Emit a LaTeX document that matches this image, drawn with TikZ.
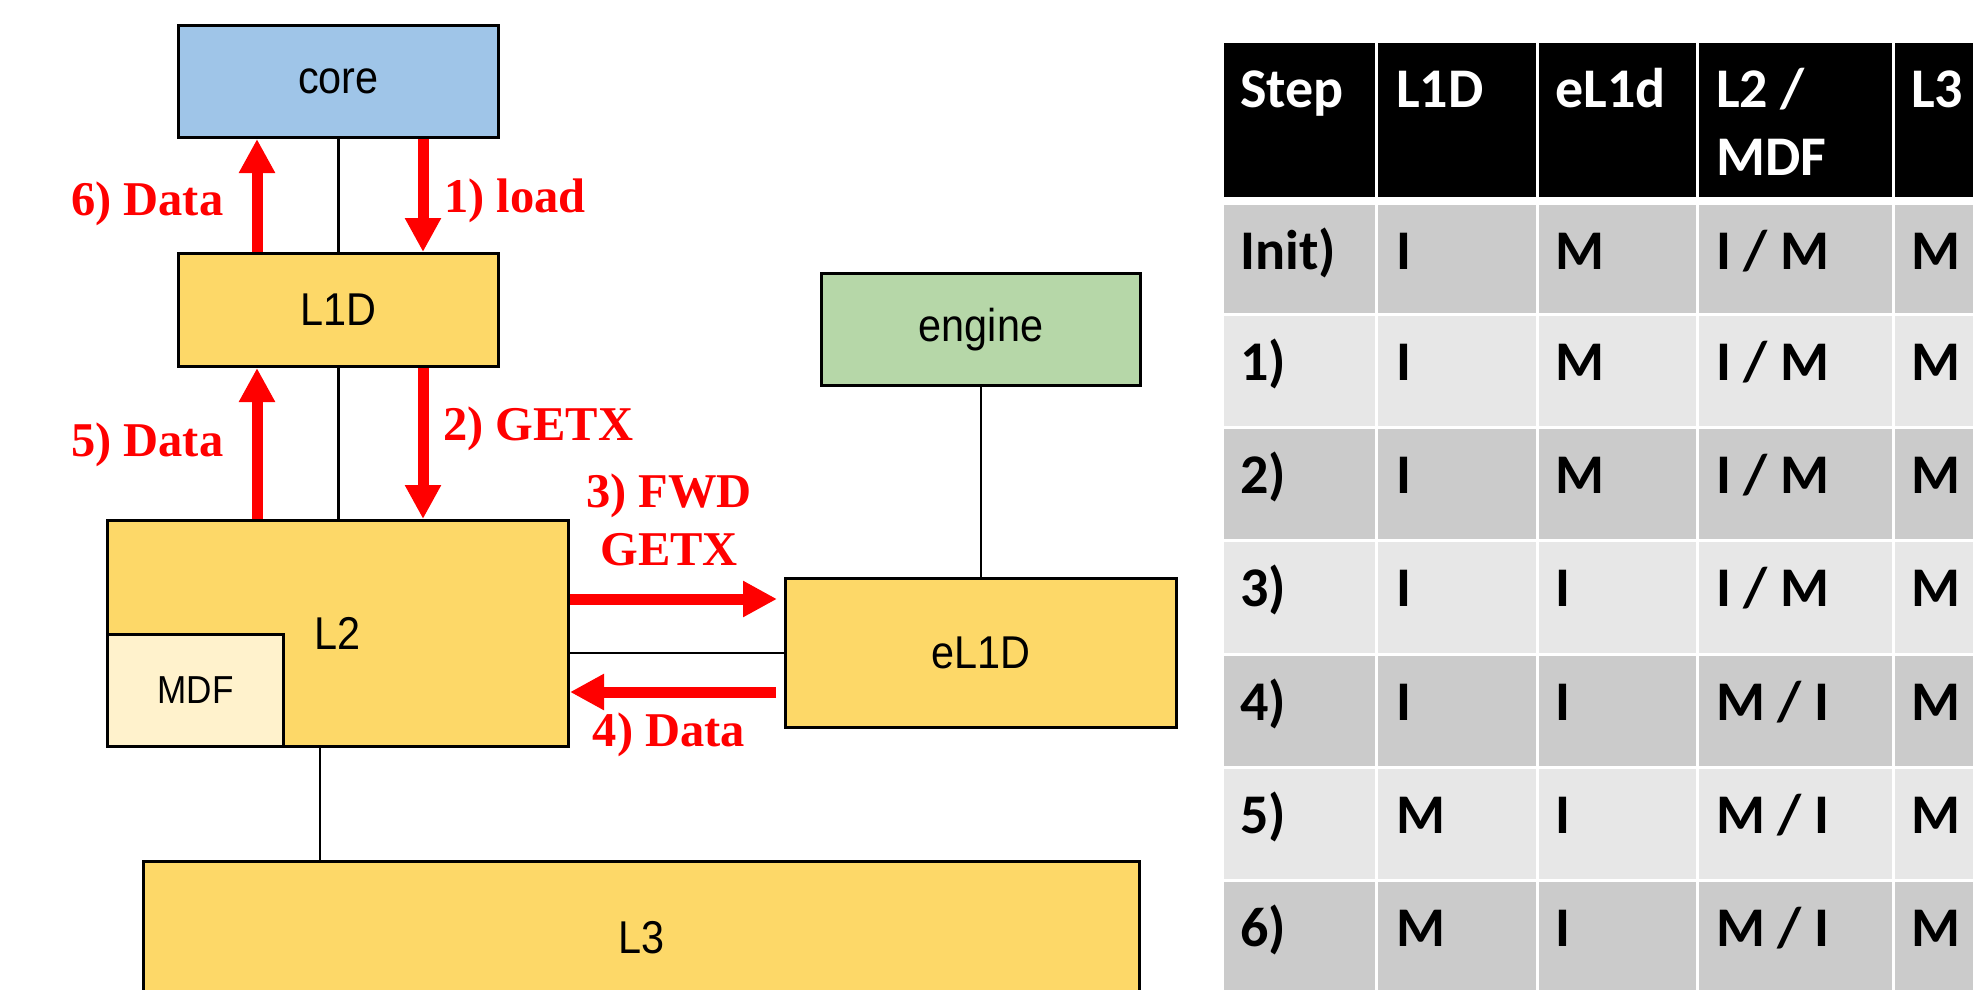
\documentclass[tikz,border=0pt]{standalone}
\usepackage{fontspec}
\usetikzlibrary{arrows.meta,calc}
\newfontfamily\lblfont{Liberation Serif}
\newfontfamily\boxfont[FakeStretch=0.9]{Liberation Sans}
\newfontfamily\tabfont{Carlito}
\definecolor{coreblue}{HTML}{9FC5E8}
\definecolor{cacheyellow}{HTML}{FDD868}
\definecolor{mdfcream}{HTML}{FFF2CC}
\definecolor{enginegreen}{HTML}{B6D7A8}
\definecolor{rowdark}{HTML}{CBCBCB}
\definecolor{rowlight}{HTML}{E7E7E7}
\begin{document}
\begin{tikzpicture}[x=1pt,y=-1pt,
 box/.style={draw=black, line width=3pt, inner sep=0pt, font=\boxfont\fontsize{46}{55}\selectfont},
 conn/.style={draw=black, line width=2.5pt},
 redarr/.style={draw=red, line width=11pt, -{Triangle[length=34pt,width=34pt]}},
 lbl/.style={text=red, font=\lblfont\bfseries\fontsize{48.5}{58}\selectfont, inner sep=0pt, anchor=base west},
 hdr/.style={text=white, font=\tabfont\bfseries\fontsize{56}{68}\selectfont, inner sep=0pt, anchor=base west},
 cell/.style={text=black, font=\tabfont\bfseries\fontsize{56}{68}\selectfont, inner sep=0pt, anchor=base west}]
\useasboundingbox (0,0) rectangle (1973,989);
\clip (0,0) rectangle (1973,989);
\fill[white] (0,0) rectangle (1973,989);

% ---- diagram boxes
\node[box, fill=coreblue, minimum width=320pt, minimum height=112pt] (core) at (338.5,81.5) {core};
\node[box, fill=cacheyellow, minimum width=320pt, minimum height=113pt] (L1D) at (338.5,310) {L1D};
\node[box, fill=cacheyellow, minimum width=461pt, minimum height=226pt] (L2) at (338,633.5) {L2};
\node[box, fill=mdfcream, minimum width=176pt, minimum height=112pt, anchor=south west,
      font=\boxfont\fontsize{39}{47}\selectfont] (MDF) at (L2.south west) {MDF};
\node[box, fill=cacheyellow, minimum width=391pt, minimum height=149pt] (eL1D) at (981,653) {eL1D};
\node[box, fill=enginegreen, minimum width=319pt, minimum height=112pt] (engine) at (981,329.5) {engine};
\node[box, fill=cacheyellow, minimum width=996pt, minimum height=152pt, anchor=north] (L3) at (641.5,860) {L3};

% ---- plain connectors
\draw[conn] (core) -- (L1D);
\draw[conn] (L1D) -- (L1D |- L2.north);
\draw[conn] (eL1D) -- (eL1D -| L2.east);
\draw[conn] (engine) -- (eL1D);
\coordinate (l3tap) at (320,800);
\draw[conn] (l3tap |- L2.south) -- (l3tap |- L3.north);

% ---- red arrows
\coordinate (upx) at (257,0);
\coordinate (downx) at (423,0);
\coordinate (fwdy) at (0,599);
\coordinate (datay) at (0,692);
\draw[redarr] (upx |- L1D.north) -- (upx |- core.south);
\draw[redarr] (downx |- core.south) -- (downx |- L1D.north);
\draw[redarr] (upx |- L2.north) -- (upx |- L1D.south);
\draw[redarr] (downx |- L1D.south) -- (downx |- L2.north);
\draw[redarr, shorten >=7pt] (L2.east |- fwdy) -- (eL1D.west |- fwdy);
\draw[redarr, shorten <=8pt] (eL1D.west |- datay) -- (L2.east |- datay);

% ---- labels
\node[lbl] (lab6) at (71,215) {6) Data};
\node[lbl] (lab1) at (444,212) {1) load};
\node[lbl] (lab5) at (71,456) {5) Data};
\node[lbl] (lab2) at (443,440) {2) GETX};
\node[lbl, anchor=base] (lab3a) at (669,507) {3) FWD};
\node[lbl, anchor=base] (lab3b) at (669,565) {GETX};
\node[lbl, anchor=base] (lab4) at (669,746) {4) Data};

% ---- table
\foreach \l/\r in {1224/1375,1378/1536,1539/1696,1699/1892,1895/1990} {
  \fill[black] (\l,43) rectangle (\r,197);
  \foreach \t/\b/\c in {205/313/rowdark,316/426/rowlight,429/539/rowdark,542/653/rowlight,656/766/rowdark,769/879/rowlight,882/1000/rowdark}
    \fill[\c] (\l,\t) rectangle (\r,\b);
}
\node[hdr] (hStep) at (1240,107) {Step};
\node[hdr] (hL1D) at (1396,107) {L1D};
\node[hdr] (heL1d) at (1555,107) {eL1d};
\node[hdr] (hL2a) at (1716,107) {L2 /};
\node[hdr] (hL2b) at (1716,175) {MDF};
\node[hdr] (hL3) at (1911,107) {L3};
\foreach \yy/\sa/\sb/\sc/\sd/\se [count=\i] in {
  269/{Init)}/I/M/{I / M}/M,
  380/{1)}/I/M/{I / M}/M,
  493/{2)}/I/M/{I / M}/M,
  606/{3)}/I/I/{I / M}/M,
  720/{4)}/I/I/{M / I}/M,
  833/{5)}/M/I/{M / I}/M,
  946/{6)}/M/I/{M / I}/M} {
  \node[cell] (r\i-a) at (1240,\yy) {\sa};
  \node[cell] (r\i-b) at (1396,\yy) {\sb};
  \node[cell] (r\i-c) at (1555,\yy) {\sc};
  \node[cell] (r\i-d) at (1716,\yy) {\sd};
  \node[cell] (r\i-e) at (1911,\yy) {\se};
}
\end{tikzpicture}
\end{document}
